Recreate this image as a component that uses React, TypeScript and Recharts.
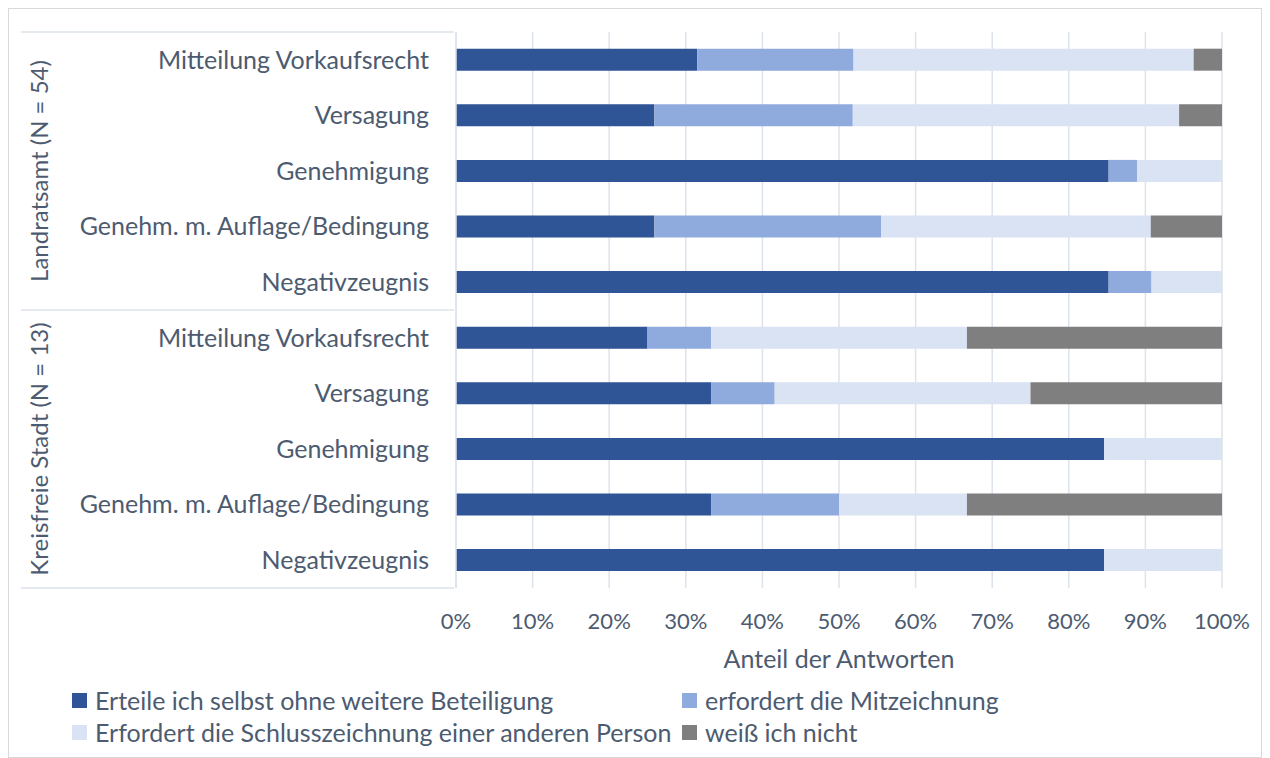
import { BarChart, Bar, XAxis, YAxis, CartesianGrid, Legend } from 'recharts';

const categories = [
  'Mitteilung Vorkaufsrecht',
  'Versagung',
  'Genehmigung',
  'Genehm. m. Auflage/Bedingung',
  'Negativzeugnis',
  'Mitteilung Vorkaufsrecht',
  'Versagung',
  'Genehmigung',
  'Genehm. m. Auflage/Bedingung',
  'Negativzeugnis',
];
const groups = ['Landratsamt (N = 54)', 'Kreisfreie Stadt (N = 13)'];
const groupSize = 5;

// share of answers in %
const erteile = [31.5, 25.9, 85.2, 25.9, 85.2, 25.0, 33.3, 84.6, 33.3, 84.6];
const mitzeichnung = [20.4, 25.9, 3.7, 29.6, 5.6, 8.3, 8.3, 0, 16.7, 0];
const schlusszeichnung = [44.4, 42.6, 11.1, 35.2, 9.2, 33.4, 33.4, 15.4, 16.7, 15.4];
const weissNicht = [3.7, 5.6, 0, 9.3, 0, 33.3, 25.0, 0, 33.3, 0];

const xTicks = [0, 10, 20, 30, 40, 50, 60, 70, 80, 90, 100];

const series = [
  { key: 'erteile', name: 'Erteile ich selbst ohne weitere Beteiligung', color: '#2F5597' },
  { key: 'mitzeichnung', name: 'erfordert die Mitzeichnung', color: '#8FAADC' },
  { key: 'schluss', name: 'Erfordert die Schlusszeichnung einer anderen Person', color: '#DAE3F3' },
  { key: 'weiss', name: 'weiß ich nicht', color: '#7F7F7F' },
];

const data = categories.map((c, i) => ({
  id: `${Math.floor(i / groupSize)}-${c}`,
  erteile: erteile[i],
  mitzeichnung: mitzeichnung[i],
  schluss: schlusszeichnung[i],
  weiss: weissNicht[i],
}));

const FONT = 'Lato, "Open Sans", sans-serif';
const TEXT = '#4d5b70';
const GRID = '#dde3ec';

const W = 1252;
const H = 748;
const MARGIN = { top: 23, right: 39, bottom: 79, left: 0 };
const Y_W = 447;
const X_H = 90;
const PLOT_H = H - MARGIN.top - MARGIN.bottom - X_H;
const BAND = PLOT_H / categories.length;

function CategoryTick(props: any) {
  const { x, y, index } = props;
  const g = Math.floor(index / groupSize);
  return (
    <g>
      <text x={x - 25} y={y} dy="0.35em" textAnchor="end" fill={TEXT} fontSize={25} fontFamily={FONT}>
        {categories[index]}
      </text>
      {index % groupSize === 0 && (
        <line x1={12} x2={x} y1={y - BAND / 2} y2={y - BAND / 2} stroke={GRID} strokeWidth={1.5} />
      )}
      {index === categories.length - 1 && (
        <line x1={12} x2={x} y1={y + BAND / 2} y2={y + BAND / 2} stroke={GRID} strokeWidth={1.5} />
      )}
      {index % groupSize === 2 && (
        <text
          x={31}
          y={y}
          transform={`rotate(-90 31 ${y})`}
          dy="0.35em"
          textAnchor="middle"
          fill={TEXT}
          fontSize={24}
          fontFamily={FONT}
        >
          {groups[g]}
        </text>
      )}
    </g>
  );
}

function LegendContent() {
  return (
    <div
      style={{
        display: 'grid',
        gridTemplateColumns: '610px auto',
        gridAutoRows: '32px',
        fontFamily: FONT,
        fontSize: 25,
        color: TEXT,
      }}
    >
      {series.map((s) => (
        <div key={s.key} style={{ display: 'flex', alignItems: 'center', whiteSpace: 'nowrap' }}>
          <span style={{ width: 15, height: 15, flexShrink: 0, background: s.color, marginRight: 8, display: 'inline-block' }} />
          {s.name}
        </div>
      ))}
    </div>
  );
}

export default function App() {
  return (
    <div style={{ width: W + 2, height: H + 2, border: '1px solid #d9d9d9', boxSizing: 'border-box', position: 'relative', background: '#fff' }}>
      <BarChart width={W} height={H} data={data} layout="vertical" margin={MARGIN} barCategoryGap="30%">
        <CartesianGrid horizontal={false} stroke={GRID} strokeWidth={1.5} />
        <XAxis
          type="number"
          domain={[0, 100]}
          ticks={xTicks}
          tickFormatter={(v) => `${v}%`}
          axisLine={false}
          tickLine={false}
          tickSize={0}
          tickMargin={25}
          height={X_H}
          tick={{ fill: TEXT, fontSize: 22, fontFamily: FONT }}
          label={{ value: 'Anteil der Antworten', position: 'insideBottom', offset: 10, fill: TEXT, fontSize: 25, fontFamily: FONT }}
        />
        <YAxis
          type="category"
          dataKey="id"
          width={Y_W}
          interval={0}
          tickLine={false}
          tickSize={0}
          axisLine={{ stroke: GRID, strokeWidth: 1.5 }}
          tick={<CategoryTick />}
        />
        <Legend
          layout="horizontal"
          verticalAlign="middle"
          align="center"
          content={<LegendContent />}
          wrapperStyle={{ left: 63, top: 675, width: 1100, height: 64 }}
        />
        {series.map((s) => (
          <Bar key={s.key} dataKey={s.key} name={s.name} stackId="a" fill={s.color} isAnimationActive={false} />
        ))}
      </BarChart>
    </div>
  );
}
